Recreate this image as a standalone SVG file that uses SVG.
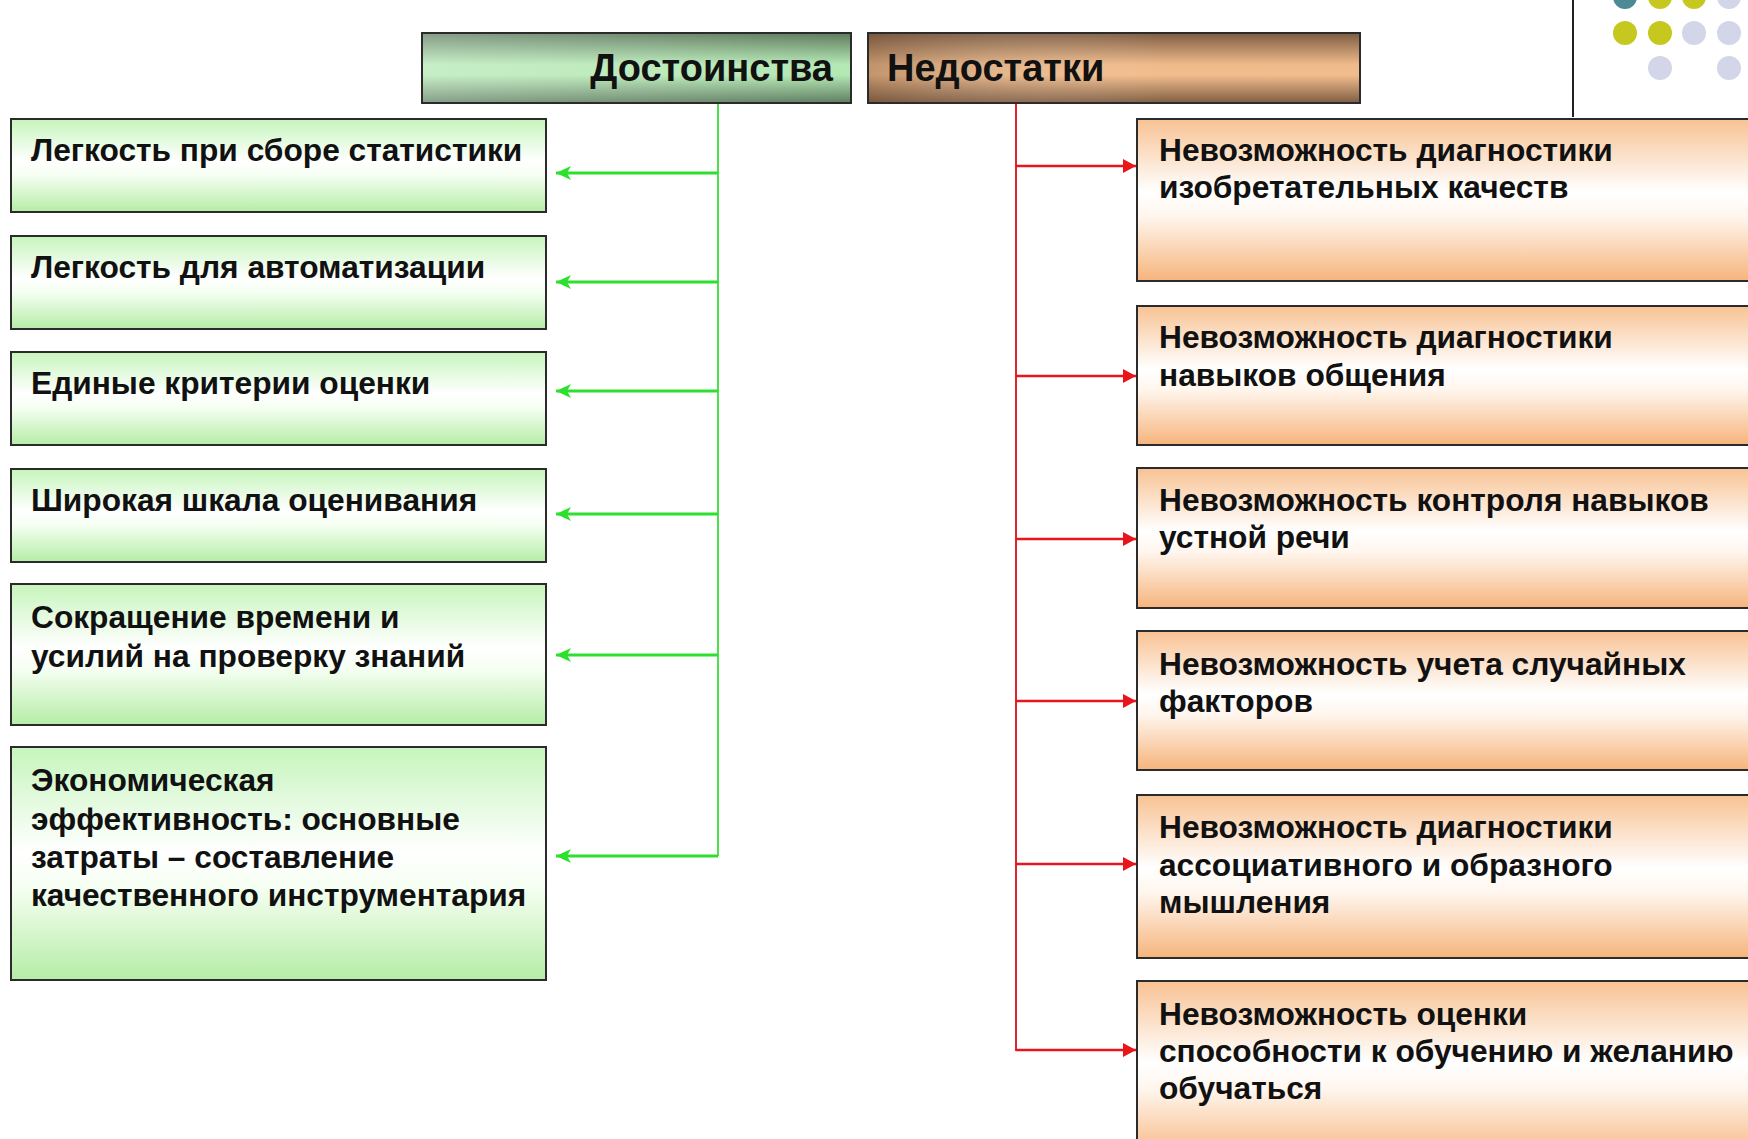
<svg xmlns="http://www.w3.org/2000/svg" width="1748" height="1139" viewBox="0 0 1748 1139">
<defs>
<linearGradient id="gHead" x1="0" y1="0" x2="0" y2="1">
<stop offset="0" stop-color="#5d7a5d"/>
<stop offset="0.45" stop-color="#b4e8b4"/>
<stop offset="0.6" stop-color="#b4e8b4"/>
<stop offset="1" stop-color="#5f7d60"/>
</linearGradient>
<linearGradient id="gHeadH" x1="0" y1="0" x2="1" y2="0">
<stop offset="0" stop-color="#ffffff" stop-opacity="0.25"/>
<stop offset="1" stop-color="#ffffff" stop-opacity="0"/>
</linearGradient>
<linearGradient id="rHead" x1="0" y1="0" x2="0" y2="1">
<stop offset="0" stop-color="#7d5c42"/>
<stop offset="0.45" stop-color="#efba8a"/>
<stop offset="0.6" stop-color="#f2bd8c"/>
<stop offset="1" stop-color="#7e5d43"/>
</linearGradient>
<linearGradient id="rHeadH" x1="0" y1="0" x2="1" y2="0">
<stop offset="0" stop-color="#6b4a33" stop-opacity="0.35"/>
<stop offset="0.6" stop-color="#ffffff" stop-opacity="0"/>
</linearGradient>
<linearGradient id="gBox" x1="0" y1="0" x2="0" y2="1">
<stop offset="0" stop-color="#c6f5bc"/>
<stop offset="0.45" stop-color="#ffffff"/>
<stop offset="0.6" stop-color="#f6fff3"/>
<stop offset="1" stop-color="#b5eda6"/>
</linearGradient>
<linearGradient id="rBox" x1="0" y1="0" x2="0" y2="1">
<stop offset="0" stop-color="#f8c293"/>
<stop offset="0.45" stop-color="#ffffff"/>
<stop offset="0.6" stop-color="#fff6ee"/>
<stop offset="1" stop-color="#f6b47c"/>
</linearGradient>
<marker id="gArrow" markerUnits="userSpaceOnUse" markerWidth="16" markerHeight="14" refX="15" refY="7" orient="auto">
<path d="M0,0 L15,7 L0,14 L4,7 Z" fill="#2ee02e"/>
</marker>
<marker id="rArrow" markerUnits="userSpaceOnUse" markerWidth="14" markerHeight="14" refX="13" refY="7" orient="auto">
<path d="M0,0 L13,7 L0,14 Z" fill="#e8161c"/>
</marker>
</defs>
<style>
.hd{stroke:#2b2b2b;stroke-width:2}
.bx{stroke:#2b2b2b;stroke-width:2}
.gb{fill:url(#gBox)}
.rb{fill:url(#rBox)}
.t{font-family:"Liberation Sans",Arial,sans-serif;font-weight:bold;font-size:31.7px;fill:#111}
.ht{font-family:"Liberation Sans",Arial,sans-serif;font-weight:bold;font-size:38px;fill:#111}
.gl{stroke:#4ee04e;stroke-width:2;fill:none}
.ga{stroke:#2ee02e;stroke-width:3;fill:none;marker-end:url(#gArrow)}
.rl{stroke:#e0262c;stroke-width:2;fill:none}
.ra{stroke:#e8161c;stroke-width:2.5;fill:none;marker-end:url(#rArrow)}
</style>
<rect width="1748" height="1139" fill="#ffffff"/>

<g id="decor">
<line x1="1573" y1="0" x2="1573" y2="117" stroke="#222" stroke-width="2"/>
<circle cx="1625" cy="-3" r="12" fill="#4e8a96"/>
<circle cx="1660" cy="-3" r="12" fill="#c6c820"/>
<circle cx="1694" cy="-3" r="12" fill="#c6c820"/>
<circle cx="1729" cy="-3" r="12" fill="#d3d6e8"/>
<circle cx="1625" cy="33" r="12" fill="#c6c820"/>
<circle cx="1660" cy="33" r="12" fill="#c6c820"/>
<circle cx="1694" cy="33" r="12" fill="#d3d6e8"/>
<circle cx="1729" cy="33" r="12" fill="#d3d6e8"/>
<circle cx="1660" cy="68" r="12" fill="#d3d6e8"/>
<circle cx="1729" cy="68" r="12" fill="#d3d6e8"/>
</g>

<g id="connectors">
<line class="gl" x1="718" y1="103" x2="718" y2="856"/>
<line class="ga" x1="718" y1="173" x2="556" y2="173"/>
<line class="ga" x1="718" y1="282" x2="556" y2="282"/>
<line class="ga" x1="718" y1="391" x2="556" y2="391"/>
<line class="ga" x1="718" y1="514" x2="556" y2="514"/>
<line class="ga" x1="718" y1="655" x2="556" y2="655"/>
<line class="ga" x1="718" y1="856" x2="556" y2="856"/>
<line class="rl" x1="1016" y1="103" x2="1016" y2="1051"/>
<line class="ra" x1="1016" y1="166" x2="1136" y2="166"/>
<line class="ra" x1="1016" y1="376" x2="1136" y2="376"/>
<line class="ra" x1="1016" y1="539" x2="1136" y2="539"/>
<line class="ra" x1="1016" y1="701" x2="1136" y2="701"/>
<line class="ra" x1="1016" y1="864" x2="1136" y2="864"/>
<line class="ra" x1="1016" y1="1050" x2="1136" y2="1050"/>
</g>

<g id="head-pros">
<rect class="hd" x="422" y="33" width="429" height="70" fill="url(#gHead)"/>
<rect x="423" y="34" width="427" height="68" fill="url(#gHeadH)"/>
<text class="ht" x="833" y="81" text-anchor="end">Достоинства</text>
</g>
<g id="head-cons">
<rect class="hd" x="868" y="33" width="492" height="70" fill="url(#rHead)"/>
<rect x="869" y="34" width="490" height="68" fill="url(#rHeadH)"/>
<text class="ht" x="887" y="81">Недостатки</text>
</g>

<g id="pro1">
<rect class="bx gb" x="11" y="119" width="535" height="93"/>
<text class="t" x="31" y="161">Легкость при сборе статистики</text>
</g>
<g id="pro2">
<rect class="bx gb" x="11" y="236" width="535" height="93"/>
<text class="t" x="31" y="278">Легкость для автоматизации</text>
</g>
<g id="pro3">
<rect class="bx gb" x="11" y="352" width="535" height="93"/>
<text class="t" x="31" y="394">Единые критерии оценки</text>
</g>
<g id="pro4">
<rect class="bx gb" x="11" y="469" width="535" height="93"/>
<text class="t" x="31" y="511">Широкая шкала оценивания</text>
</g>
<g id="pro5">
<rect class="bx gb" x="11" y="584" width="535" height="141"/>
<text class="t" x="31" y="628">Сокращение времени  и</text>
<text class="t" x="31" y="667">усилий на проверку знаний</text>
</g>
<g id="pro6">
<rect class="bx gb" x="11" y="747" width="535" height="233"/>
<text class="t" x="31" y="791">Экономическая</text>
<text class="t" x="31" y="830">эффективность: основные</text>
<text class="t" x="31" y="868">затраты – составление</text>
<text class="t" x="31" y="906">качественного инструментария</text>
</g>

<g id="con1">
<rect class="bx rb" x="1137" y="119" width="640" height="162"/>
<text class="t" x="1159" y="161">Невозможность диагностики</text>
<text class="t" x="1159" y="198">изобретательных качеств</text>
</g>
<g id="con2">
<rect class="bx rb" x="1137" y="306" width="640" height="139"/>
<text class="t" x="1159" y="348">Невозможность диагностики</text>
<text class="t" x="1159" y="386">навыков общения</text>
</g>
<g id="con3">
<rect class="bx rb" x="1137" y="468" width="640" height="140"/>
<text class="t" x="1159" y="511">Невозможность контроля навыков</text>
<text class="t" x="1159" y="548">устной речи</text>
</g>
<g id="con4">
<rect class="bx rb" x="1137" y="631" width="640" height="139"/>
<text class="t" x="1159" y="675">Невозможность учета случайных</text>
<text class="t" x="1159" y="712">факторов</text>
</g>
<g id="con5">
<rect class="bx rb" x="1137" y="795" width="640" height="163"/>
<text class="t" x="1159" y="838">Невозможность диагностики</text>
<text class="t" x="1159" y="876">ассоциативного и образного</text>
<text class="t" x="1159" y="913">мышления</text>
</g>
<g id="con6">
<rect class="bx rb" x="1137" y="981" width="640" height="180"/>
<text class="t" x="1159" y="1025">Невозможность оценки</text>
<text class="t" x="1159" y="1062">способности к обучению и желанию</text>
<text class="t" x="1159" y="1099">обучаться</text>
</g>
</svg>
